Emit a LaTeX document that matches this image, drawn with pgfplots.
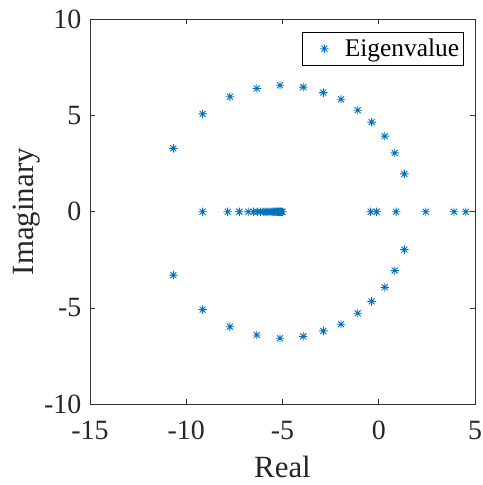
\documentclass[border=0pt]{standalone}
\usepackage{fontspec}
\setmainfont{Liberation Serif}
\usepackage{pgfplots}
\pgfplotsset{compat=1.18}
\definecolor{mblue}{rgb}{0,0.447,0.741}
\pgfdeclareplotmark{mstar}{%
  \pgfpathmoveto{\pgfqpoint{-\pgfplotmarksize}{0pt}}\pgfpathlineto{\pgfqpoint{\pgfplotmarksize}{0pt}}%
  \pgfpathmoveto{\pgfqpoint{0pt}{-\pgfplotmarksize}}\pgfpathlineto{\pgfqpoint{0pt}{\pgfplotmarksize}}%
  \pgfpathmoveto{\pgfqpoint{-0.707\pgfplotmarksize}{-0.707\pgfplotmarksize}}\pgfpathlineto{\pgfqpoint{0.707\pgfplotmarksize}{0.707\pgfplotmarksize}}%
  \pgfpathmoveto{\pgfqpoint{-0.707\pgfplotmarksize}{0.707\pgfplotmarksize}}\pgfpathlineto{\pgfqpoint{0.707\pgfplotmarksize}{-0.707\pgfplotmarksize}}%
  \pgfusepathqstroke}
\begin{document}
\begin{tikzpicture}
\begin{axis}[
  scale only axis,
  width=385bp, height=384.5bp,
  xmin=-15, xmax=5, ymin=-10, ymax=10,
  xtick={-15,-10,-5,0,5}, xticklabels={-15,-10,-5,0,5},
  ytick={-10,-5,0,5,10}, yticklabels={-10,-5,0,5,10},
  tick align=inside, tick pos=both,
  major tick length=5bp,
  axis line style={line width=0.7pt, black!80},
  tick style={line width=0.7pt, black!80},
  font=\fontsize{28}{32}\selectfont,
  ticklabel style={font=\fontsize{28}{32}\selectfont, text=black!85},
  label style={font=\fontsize{31}{35}\selectfont, text=black!85},
  xticklabel style={anchor=base, inner sep=0pt, yshift=-35bp},
  yticklabel style={anchor=east, inner sep=0pt, xshift=-8.5bp},
  xlabel={Real}, ylabel={Imaginary},
  xlabel style={at={(axis description cs:0.5,-0.19)}, anchor=base},
  ylabel style={at={(axis description cs:-0.148,0.5)}, anchor=base},
  legend style={at={(0.97,0.968)}, anchor=north east, draw=black, line width=0.7pt,
    font=\fontsize{25.5}{29}\selectfont, inner xsep=2bp, inner ysep=5bp},
  legend cell align=left,
  legend image code/.code={\path (0bp,-3bp) (38bp,3bp); \draw[mark repeat=2,mark phase=2,#1] plot coordinates {(0bp,0bp)(20bp,0bp)(40bp,0bp)};},
]
\addplot[only marks, mark=mstar, mark size=4.2bp, color=mblue, line width=0.9pt]
coordinates {
(-10.67,3.30) (-9.15,5.09) (-7.73,5.98) (-6.34,6.41) (-5.13,6.58) (-3.92,6.48)
(-2.88,6.20) (-1.96,5.85) (-1.09,5.28) (-0.37,4.66) (0.31,3.93) (0.83,3.06) (1.33,1.97)
(-10.67,-3.30) (-9.15,-5.09) (-7.73,-5.98) (-6.34,-6.41) (-5.13,-6.58) (-3.92,-6.48)
(-2.88,-6.20) (-1.96,-5.85) (-1.09,-5.28) (-0.37,-4.66) (0.31,-3.93) (0.83,-3.06) (1.33,-1.97)
(-9.15,0) (-7.85,0) (-7.24,0) (-6.78,0) (-6.5,0) (-6.3,0) (-6.15,0) (-6.0,0) (-5.9,0)
(-5.8,0) (-5.7,0) (-5.6,0) (-5.5,0) (-5.45,0) (-5.4,0) (-5.35,0) (-5.3,0) (-5.25,0)
(-5.2,0) (-5.15,0) (-5.1,0) (-5.05,0) (-5.0,0)
(-0.42,0) (-0.11,0) (0.90,0) (2.44,0) (3.91,0) (4.52,0)
};
\addlegendentry{Eigenvalue}
\end{axis}
\pgfresetboundingbox
\path ([xshift=-90bp,yshift=-81bp]current axis.south west) rectangle ([xshift=8bp,yshift=19.5bp]current axis.north east);
\end{tikzpicture}
\end{document}
